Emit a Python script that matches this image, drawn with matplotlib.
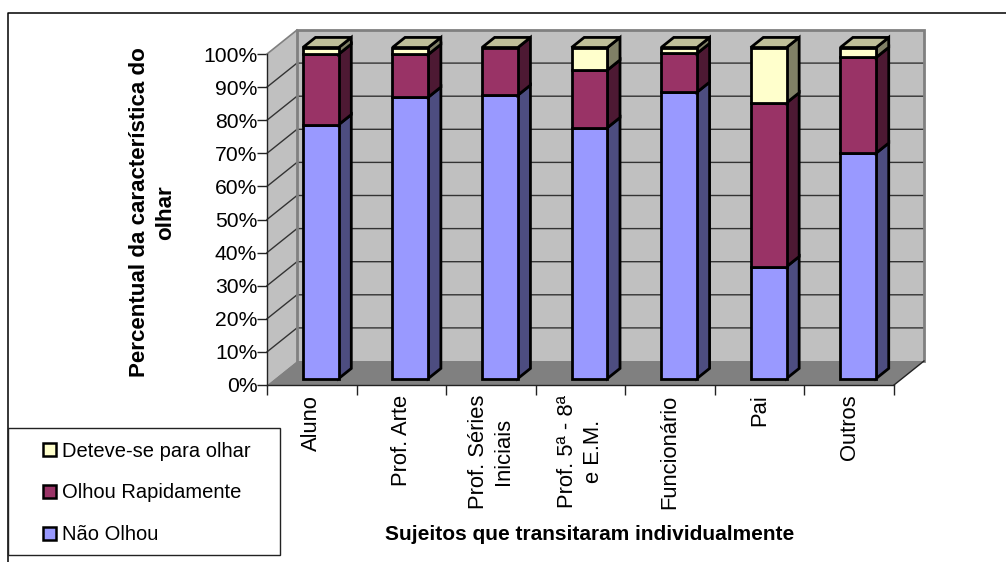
import matplotlib
matplotlib.use("Agg")
import matplotlib.pyplot as plt
from matplotlib.lines import Line2D
from matplotlib.patches import Polygon, Patch, Rectangle

plt.rcParams['font.family'] = ['Liberation Sans', 'DejaVu Sans']

categorias = ['Aluno', 'Prof. Arte', 'Prof. Séries\nIniciais', 'Prof. 5ª - 8ª\ne E.M.',
              'Funcionário', 'Pai', 'Outros']
nao_olhou = [76.7, 85.0, 85.6, 75.8, 86.5, 33.8, 68.1]
olhou_rapido = [21.3, 12.9, 14.4, 17.4, 11.7, 49.5, 28.9]
deteve_se = [2.0, 2.1, 0.0, 6.8, 1.8, 16.7, 3.0]
pct_ticks = list(range(0, 101, 10))

series = [
    ('Não Olhou', nao_olhou, '#9999FF', '#4D4D80'),
    ('Olhou Rapidamente', olhou_rapido, '#993366', '#4D1933'),
    ('Deteve-se para olhar', deteve_se, '#FFFFCC', '#808066'),
]

W, H = 1006, 562
fig = plt.figure(figsize=(W / 100, H / 100), dpi=100)
ax = fig.add_axes([267 / W, (H - 385) / H, 627 / W, 331 / H])
ax.set_xlim(0, len(categorias))
ax.set_ylim(0, 100)
ax.patch.set_visible(False)

# fake 3d: depth d goes 0..1 and shifts points up and to the right
DX = 30 / (627 / len(categorias))
DY = 24 / 3.31


def p3(x, y, d):
    return (x + d * DX, y + d * DY)


def face(pts, fc, ec='none', lw=0, z=1):
    ax.add_patch(Polygon(pts, closed=True, fc=fc, ec=ec, lw=lw, zorder=z,
                         clip_on=False, joinstyle='miter'))


n = len(categorias)
# side wall, back wall, floor
face([p3(0, 0, 0), p3(0, 100, 0), p3(0, 100, 1), p3(0, 0, 1)], '#C0C0C0')
face([p3(0, 0, 1), p3(0, 100, 1), p3(n, 100, 1), p3(n, 0, 1)], '#C0C0C0')
face([p3(0, 0, 0), p3(n, 0, 0), p3(n, 0, 1), p3(0, 0, 1)], '#808080')

for t in pct_ticks[1:-1]:
    a, b, c = p3(0, t, 0), p3(0, t, 1), p3(n, t, 1)
    ax.plot([a[0], b[0], c[0]], [a[1], b[1], c[1]], color='#333333', lw=1,
            clip_on=False, zorder=2, solid_joinstyle='miter')

# gray wall outline
a, b, c, e = p3(0, 0, 1), p3(0, 100, 1), p3(n, 100, 1), p3(n, 0, 1)
ax.plot([a[0], b[0], c[0], e[0]], [a[1], b[1], c[1], e[1]], color='#808080', lw=2,
        clip_on=False, zorder=2.5, solid_joinstyle='miter')
s = p3(0, 100, 0)
ax.plot([s[0], b[0]], [s[1], b[1]], color='#808080', lw=1.2, clip_on=False, zorder=2.5)
f = p3(n, 0, 0)
ax.plot([f[0], e[0]], [f[1], e[1]], color='#222222', lw=1, clip_on=False, zorder=2.5)

# stacked bars
d0, d1 = 0.27, 0.69
larg = 0.4
z = 3
for i in range(n):
    x0 = i + 0.51 - larg / 2
    x1 = x0 + larg
    base = 0
    for nome, vals, cor, lado in series:
        v = vals[i]
        if v <= 0:
            continue
        topo = base + v
        face([p3(x1, base, d0), p3(x1, base, d1), p3(x1, topo, d1), p3(x1, topo, d0)],
             lado, 'black', 2, z)
        face([p3(x0, base, d0), p3(x1, base, d0), p3(x1, topo, d0), p3(x0, topo, d0)],
             cor, 'black', 2, z + 0.1)
        base = topo
        z += 0.2
    face([p3(x0, base, d0), p3(x1, base, d0), p3(x1, base, d1), p3(x0, base, d1)],
         '#BFBF99', 'black', 2, z)
    z += 0.2

# axes and ticks
for lado in ['top', 'right']:
    ax.spines[lado].set_visible(False)
for lado in ['left', 'bottom']:
    ax.spines[lado].set_linewidth(1)
    ax.spines[lado].set_color('#222222')
    ax.spines[lado].set_zorder(2.6)
ax.set_yticks(pct_ticks)
ax.set_yticklabels(['%d%%' % t for t in pct_ticks], fontsize=15.2)
ax.set_xticks(range(n + 1))
ax.set_xticklabels([])
ax.set_xticks([i + 0.5 for i in range(n)], minor=True)
ax.set_xticklabels(categorias, minor=True, rotation=90, fontsize=15.8, va='top',
                   ha='center', multialignment='center', linespacing=1.3)
ax.tick_params(axis='x', which='minor', length=0, pad=7)
ax.tick_params(axis='x', which='major', length=7, width=1, color='#222222')
ax.tick_params(axis='y', which='major', length=7, width=1, color='#222222', pad=0)

fig.text(152.5 / W, 1 - 212.5 / H, 'Percentual da característica do\nolhar', rotation=90,
         fontsize=16.1, fontweight='bold', ha='center', va='center',
         multialignment='center', linespacing=1.3)
fig.text(590 / W, 1 - 535 / H, 'Sujeitos que transitaram individualmente', fontsize=15,
         fontweight='bold', ha='center', va='center')

# outer frame has only top and left sides
fig.add_artist(Line2D([8 / W, 8 / W, 1], [0, 1 - 12.5 / H, 1 - 12.5 / H], color='black', lw=1.1))

# legend box
fig.add_artist(Rectangle((8 / W, 1 - 555 / H), 272 / W, 127.5 / H, transform=fig.transFigure,
                         fc='white', ec='#222222', lw=1, zorder=5))
handles = [Patch(fc=s_[2], ec='black', lw=1.8, label=s_[0]) for s_ in reversed(series)]
leg = fig.legend(handles=handles, loc='upper left', bbox_to_anchor=(27 / W, 1 - 425.5 / H),
                 frameon=False, fontsize=14.5, handlelength=0.62, handleheight=0.62,
                 handletextpad=0.3, labelspacing=1.13, borderpad=0.3)
leg.set_zorder(6)

fig.savefig('out.png', dpi=100)
